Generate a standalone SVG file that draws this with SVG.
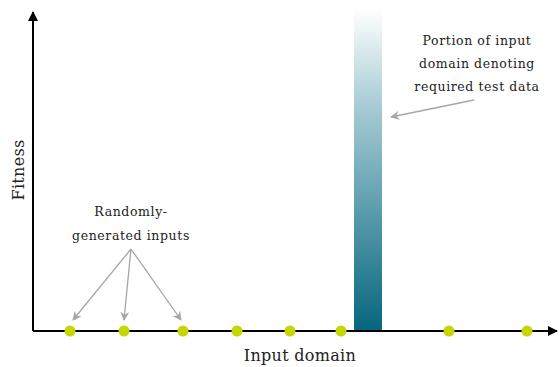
<svg xmlns="http://www.w3.org/2000/svg" width="560" height="367" viewBox="0 0 560 367">
  <style>
    .axis { stroke: #000; stroke-width: 2; fill: none; }
    .pointer { stroke: #a6a6a6; stroke-width: 1.3; fill: none; }
    .dot { fill: #c6d600; }
    .label { font-family: "DejaVu Serif", "Liberation Serif", serif; fill: #222; text-anchor: middle; }
    .note { font-size: 12.5px; letter-spacing: 0.6px; }
    .title { font-size: 16px; letter-spacing: 0.3px; }
  </style>
  <defs>
    <linearGradient id="bandFill" x1="0" y1="0" x2="0" y2="1">
      <stop offset="0" stop-color="#ffffff"/>
      <stop offset="0.3" stop-color="#a8ccd5"/>
      <stop offset="1" stop-color="#05667e"/>
    </linearGradient>
    <marker id="axisHead" viewBox="0 0 10 10" refX="9" refY="5" markerWidth="5" markerHeight="5" orient="auto">
      <path d="M0,0 L10,5 L0,10 Z" fill="#000"/>
    </marker>
    <marker id="grayHead" viewBox="0 0 10 10" refX="9" refY="5" markerWidth="9" markerHeight="9" orient="auto" markerUnits="userSpaceOnUse">
      <path d="M0,0 L10,5 L0,10 L3,5 Z" fill="#a6a6a6"/>
    </marker>
  </defs>

  <!-- highlighted region of the input domain -->
  <g id="band">
    <rect x="354" y="8" width="28" height="323" fill="url(#bandFill)"/>
  </g>

  <!-- axes -->
  <g id="axes">
    <path class="axis" d="M33,331 L33,12" marker-end="url(#axisHead)"/>
    <path class="axis" d="M33,331 L557,331" marker-end="url(#axisHead)"/>
  </g>

  <!-- pointers -->
  <g id="connectors">
    <path class="pointer" d="M131,249 L73,320" marker-end="url(#grayHead)"/>
    <path class="pointer" d="M131,249 L124,320" marker-end="url(#grayHead)"/>
    <path class="pointer" d="M131,249 L181,320" marker-end="url(#grayHead)"/>
    <path class="pointer" d="M474,100 L391,117" marker-end="url(#grayHead)"/>
  </g>

  <!-- sampled inputs -->
  <g id="inputs">
    <circle class="dot" cx="70" cy="331" r="5.5"/>
    <circle class="dot" cx="124" cy="331" r="5.5"/>
    <circle class="dot" cx="183" cy="331" r="5.5"/>
    <circle class="dot" cx="237" cy="331" r="5.5"/>
    <circle class="dot" cx="290" cy="331" r="5.5"/>
    <circle class="dot" cx="341" cy="331" r="5.5"/>
    <circle class="dot" cx="449" cy="331" r="5.5"/>
    <circle class="dot" cx="527" cy="331" r="5.5"/>
  </g>

  <g id="random-label">
    <text class="label note" x="131" y="216">Randomly-</text>
    <text class="label note" x="131" y="240">generated inputs</text>
  </g>

  <g id="portion-label">
    <text class="label note" x="477" y="45">Portion of input</text>
    <text class="label note" x="477" y="68">domain denoting</text>
    <text class="label note" x="477" y="91">required test data</text>
  </g>

  <g id="axis-labels">
    <text class="label title" x="300" y="361">Input domain</text>
    <text class="label title" transform="translate(24,170) rotate(-90)">Fitness</text>
  </g>
</svg>
